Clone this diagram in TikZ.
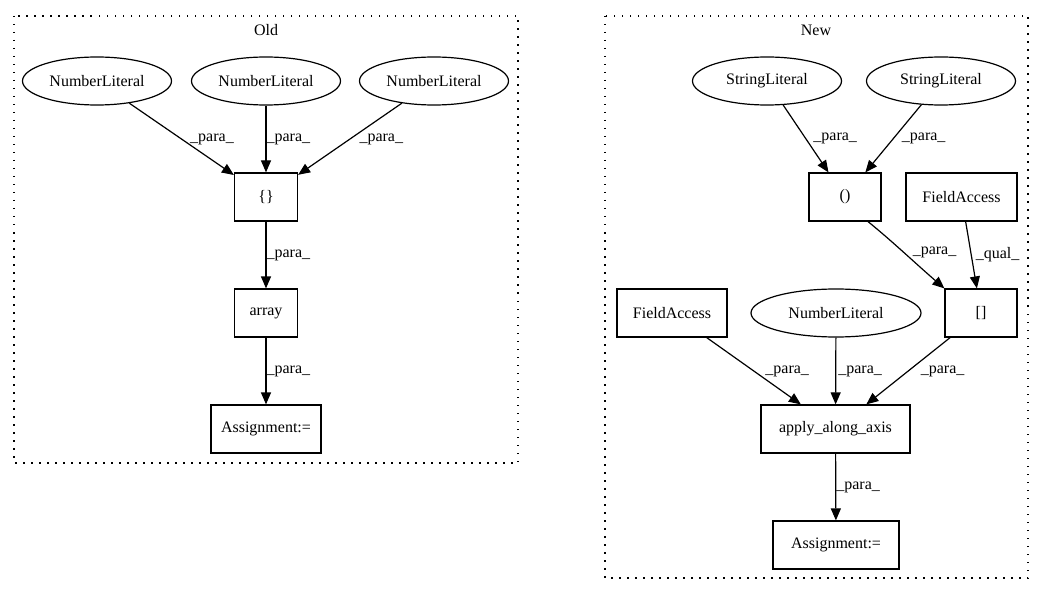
\documentclass[tikz,border=0pt]{standalone}
\usepackage{fontspec}
\setmainfont{Liberation Serif}
\usetikzlibrary{shapes.geometric,arrows.meta}
\begin{document}
\begin{tikzpicture}[x=1pt,y=-1pt,
    font=\fontsize{16}{18}\selectfont,
    lit/.style={draw,ellipse,line width=1.2pt,minimum width=149pt,minimum height=48pt,inner sep=0pt},
    op/.style={draw,rectangle,line width=1.2pt,minimum height=48pt,inner sep=0pt},
    flow/.style={-{Triangle[length=12pt,width=10pt]},line width=1.2pt},
    lbl/.style={inner sep=0pt,anchor=west},
    cluster/.style={line width=1.2pt,dash pattern=on 1.5pt off 6.5pt}]
    \useasboundingbox (0,0) rectangle (1044,596);
    % Old
    \draw[cluster] (14,16) rectangle (518,463);
    \node (oldt) at (266,30) {Old};
    \node[lit] (onl1) at (97,81) {NumberLiteral};
    \node[lit] (onl2) at (266,81) {NumberLiteral};
    \node[lit] (onl3) at (434,81) {NumberLiteral};
    \node[op,minimum width=63pt] (obrace) at (266,197) {\{\}};
    \node[op,minimum width=63pt] (oarray) at (266,313) {array};
    \node[op,minimum width=110pt] (oassign) at (266,429) {Assignment:=};
    \draw[flow] (onl1) -- node[lbl,right=8pt]{\_para\_} (obrace);
    \draw[flow] (onl2) -- node[lbl,right=0pt]{\_para\_} (obrace);
    \draw[flow] (onl3) -- node[lbl,right=9pt]{\_para\_} (obrace);
    \draw[flow] (obrace) -- node[lbl,right=0pt]{\_para\_} (oarray);
    \draw[flow] (oarray) -- node[lbl,right=0pt]{\_para\_} (oassign);
    % New
    \draw[cluster] (605,16) rectangle (1028,578);
    \node (newt) at (816,30) {New};
    \node[lit] (nsl1) at (767,81) {StringLiteral};
    \node[lit] (nsl2) at (941,81) {StringLiteral};
    \node[op,minimum width=72pt] (nparen) at (845,197) {()};
    \node[op,minimum width=111pt] (nfa1) at (961.5,197) {FieldAccess};
    \node[op,minimum width=72pt] (nsq) at (981,313) {[]};
    \node[op,minimum width=110pt] (nfa2) at (672,313) {FieldAccess};
    \node[lit,minimum width=170pt] (nnl) at (836,313) {NumberLiteral};
    \node[op,minimum width=149pt] (napply) at (835.5,429) {apply\_along\_axis};
    \node[op,minimum width=126pt] (nassign) at (836,545) {Assignment:=};
    \draw[flow] (nsl1) -- node[lbl,right=7pt]{\_para\_} (nparen);
    \draw[flow] (nsl2) -- node[lbl,right=8pt]{\_para\_} (nparen);
    \draw[flow] ([xshift=23pt]nparen.south) .. controls (892,241) and (915,263) .. node[lbl,right=8pt]{\_para\_} (nsq.north west);
    \draw[flow] (nfa1) -- node[lbl,right=4pt]{\_qual\_} (nsq);
    \draw[flow] (nfa2) -- node[lbl,right=11pt]{\_para\_} (napply);
    \draw[flow] (nnl) -- node[lbl,right=2pt]{\_para\_} (napply);
    \draw[flow] (nsq) -- node[lbl,right=12pt]{\_para\_} (napply);
    \draw[flow] (napply) -- node[lbl,right=0pt]{\_para\_} (nassign);
\end{tikzpicture}
\end{document}
